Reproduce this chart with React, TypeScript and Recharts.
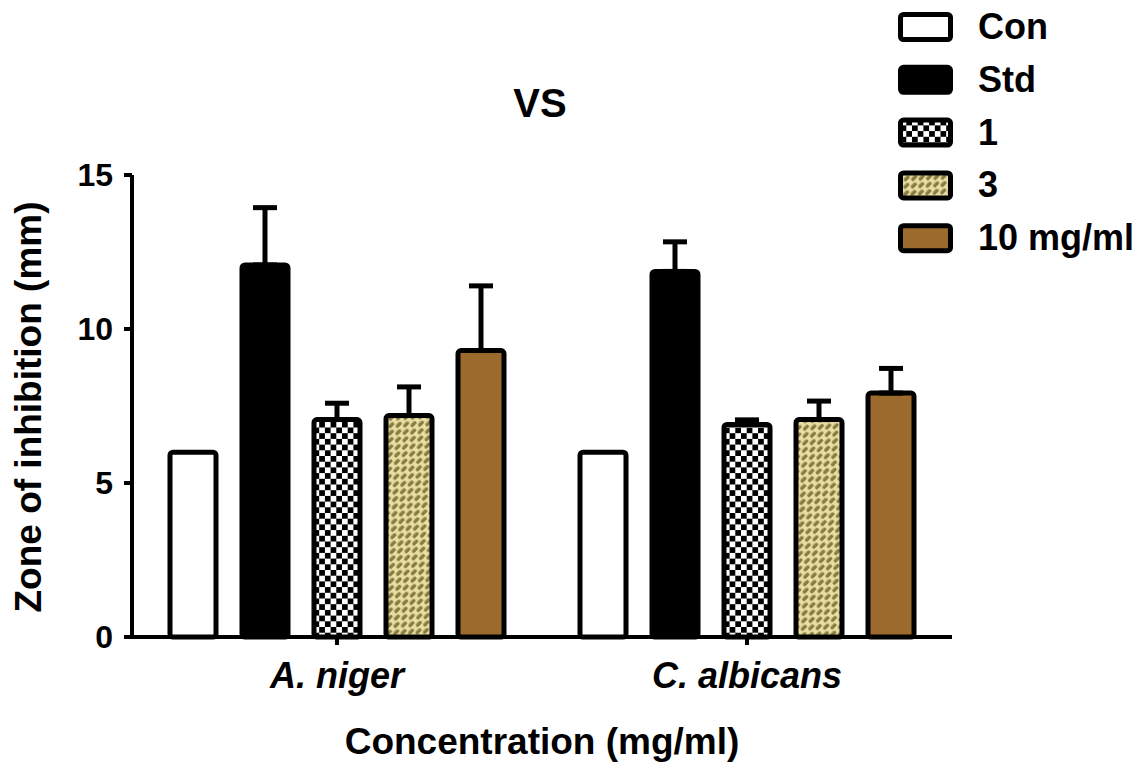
import React from 'react';
import { BarChart, Bar, XAxis, YAxis, ErrorBar } from 'recharts';

const categories = ['A. niger', 'C. albicans'];
const seriesNames = ['Con', 'Std', '1', '3', '10 mg/ml'];
const conValues = [6, 6];
const stdValues = [12.08, 11.87];
const stdErrors = [1.86, 0.96];
const c1Values = [7.06, 6.9];
const c1Errors = [0.53, 0.15];
const c3Values = [7.19, 7.06];
const c3Errors = [0.93, 0.6];
const c10Values = [9.3, 7.92];
const c10Errors = [2.1, 0.8];
const yTicks = [0, 5, 10, 15];

const data = categories.map((name, i) => ({
  name,
  con: conValues[i],
  std: stdValues[i],
  stdErr: [0, stdErrors[i]],
  c1: c1Values[i],
  c1Err: [0, c1Errors[i]],
  c3: c3Values[i],
  c3Err: [0, c3Errors[i]],
  c10: c10Values[i],
  c10Err: [0, c10Errors[i]],
}));

const seriesKeys = ['con', 'std', 'c1', 'c3', 'c10'];
const seriesErrKeys = [null, 'stdErr', 'c1Err', 'c3Err', 'c10Err'];
const seriesFills = ['#ffffff', '#000000', 'url(#checker)', 'url(#hatch3)', '#9b6a2c'];

const FONT = '"Liberation Sans", Arial, Helvetica, sans-serif';

const XTick = (props: any) => {
  const { x, y, payload } = props;
  return (
    <text
      x={x}
      y={y + 41}
      textAnchor="middle"
      fontFamily={FONT}
      fontWeight="bold"
      fontStyle="italic"
      fontSize={36}
      fill="#000"
    >
      {payload.value}
    </text>
  );
};

export default function App() {
  return (
    <div style={{ position: 'absolute', left: 0, top: 0, background: '#fff' }}>
      <BarChart
        width={1145}
        height={779}
        data={data}
        margin={{ top: 175, right: 193, bottom: 82, left: 0 }}
        barSize={46}
        barGap={26}
      >
        <defs>
          <pattern id="checker" width="11.4" height="11.4" patternUnits="userSpaceOnUse">
            <rect x="0" y="0" width="11.4" height="11.4" fill="#ffffff" />
            <rect x="0" y="0" width="5.7" height="5.7" fill="#000000" />
            <rect x="5.7" y="5.7" width="5.7" height="5.7" fill="#000000" />
          </pattern>
          <pattern
            id="hatch3"
            width="11"
            height="10"
            patternUnits="userSpaceOnUse"
            patternTransform="rotate(-45)"
          >
            <rect x="0" y="0" width="11" height="10" fill="#e8dea2" />
            <rect x="0" y="0.5" width="7" height="3.6" rx="1.5" fill="#877d42" />
            <rect x="5.5" y="5.5" width="7" height="3.6" rx="1.5" fill="#877d42" />
            <rect x="-5.5" y="5.5" width="7" height="3.6" rx="1.5" fill="#877d42" />
          </pattern>
        </defs>
        <XAxis
          dataKey="name"
          height={60}
          tick={<XTick />}
          tickSize={8}
          axisLine={{ stroke: '#000', strokeWidth: 4 }}
          tickLine={{ stroke: '#000', strokeWidth: 4 }}
        />
        <YAxis
          type="number"
          domain={[0, 15]}
          ticks={yTicks}
          width={132}
          tickSize={8}
          tickMargin={11}
          tick={{ fontSize: 32, fontWeight: 'bold', fill: '#000', fontFamily: FONT }}
          axisLine={{ stroke: '#000', strokeWidth: 4 }}
          tickLine={{ stroke: '#000', strokeWidth: 4 }}
        />
        {seriesKeys.map((k, i) => (
          <Bar
            key={k}
            dataKey={k}
            name={seriesNames[i]}
            fill={seriesFills[i]}
            stroke="#000"
            strokeWidth={5}
            radius={3}
            isAnimationActive={false}
          >
            {seriesErrKeys[i] ? (
              <ErrorBar
                dataKey={seriesErrKeys[i] as string}
                width={12}
                stroke="#000"
                strokeWidth={5}
                direction="y"
                isAnimationActive={false}
              />
            ) : null}
          </Bar>
        ))}
        <text
          x={540}
          y={117}
          textAnchor="middle"
          fontFamily={FONT}
          fontWeight="bold"
          fontSize={40}
          fill="#000"
        >
          VS
        </text>
        <text
          x={41}
          y={407}
          transform="rotate(-90, 41, 407)"
          textAnchor="middle"
          fontFamily={FONT}
          fontWeight="bold"
          fontSize={37}
          fill="#000"
        >
          Zone of inhibition (mm)
        </text>
        <text
          x={542}
          y={754}
          textAnchor="middle"
          fontFamily={FONT}
          fontWeight="bold"
          fontSize={37}
          fill="#000"
        >
          Concentration (mg/ml)
        </text>
        <g>
          {seriesNames.map((n, i) => {
            const cy = 27 + i * 52.8;
            return (
              <g key={n}>
                <rect
                  x={900.5}
                  y={cy - 12.5}
                  width={50}
                  height={25}
                  rx={3}
                  fill={seriesFills[i]}
                  stroke="#000"
                  strokeWidth={5}
                />
                <text
                  x={978}
                  y={cy + 12}
                  fontFamily={FONT}
                  fontWeight="bold"
                  fontSize={36}
                  fill="#000"
                >
                  {n}
                </text>
              </g>
            );
          })}
        </g>
      </BarChart>
    </div>
  );
}
